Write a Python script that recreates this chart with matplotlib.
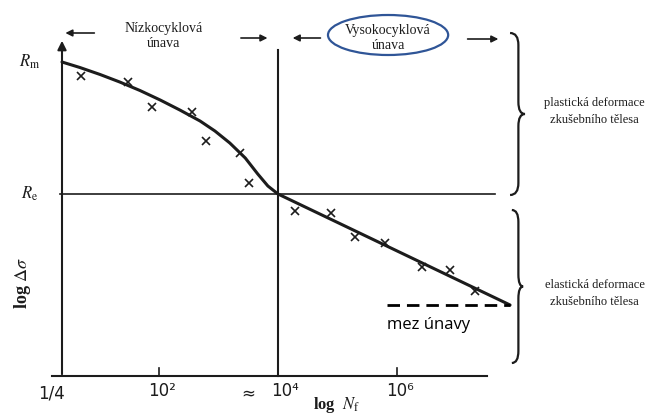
import matplotlib
matplotlib.use("Agg")
import matplotlib.pyplot as plt
from matplotlib.path import Path
from matplotlib.patches import PathPatch, Ellipse

plt.rcParams['mathtext.fontset'] = 'stix'

# x = log10 N (schematic), y = log stress (relative units)
curve_x = [0.37, 0.67, 1.01, 1.34, 1.68, 2.02, 2.35, 2.69, 2.94, 3.19, 3.45, 3.66, 3.83, 4.00, 7.90]
curve_y = [3.14, 3.085, 3.015, 2.94, 2.855, 2.76, 2.66, 2.55, 2.45, 2.33, 2.18, 2.02, 1.90, 1.82, 0.71]

meas_x = [0.69, 1.48, 1.88, 2.55, 2.79, 3.36, 3.51, 4.29, 4.89, 5.29, 5.80, 6.42, 6.89, 7.31]
meas_y = [3.00, 2.94, 2.69, 2.64, 2.35, 2.23, 1.93, 1.65, 1.63, 1.39, 1.33, 1.09, 1.06, 0.85]

R_m = 3.14
R_e = 1.82
mez = 0.71            # mez unavy
x_knee = 4.0          # ~10^4 cyklu
x_start = 0.37        # 1/4 cyklu
x_end = 7.90

tick_pos = [2.0, 6.0]
tick_labels = ['10²', '10⁶']

col = '#1c1c1c'
serif = 'Liberation Serif'

fig = plt.figure(figsize=(6.49, 4.16), dpi=100)
ax = fig.add_axes([0, 0, 1, 1])
ax.set_xlim(-0.672, 10.235)
ax.set_ylim(-0.40, 3.76)
ax.axis('off')

# osy
ax.annotate('', xy=(x_start, 3.38), xytext=(x_start, -0.01),
            arrowprops=dict(arrowstyle='-|>', lw=1.5, color=col, mutation_scale=13))
ax.plot([0.20, 7.51], [0, 0], color=col, lw=1.5)
for t in tick_pos:
    ax.plot([t, t], [0, 0.08], color=col, lw=1.2)

# Re a hranice 10^4
ax.plot([0.34, 7.65], [R_e, R_e], color=col, lw=1.2)
ax.plot([x_knee, x_knee], [3.26, 0], color=col, lw=1.5)

# krivka a body
ax.plot(curve_x, curve_y, color=col, lw=2.2, solid_capstyle='round', solid_joinstyle='round')
ax.plot(meas_x, meas_y, ls='none', marker='x', ms=5.5, mew=1.2, color=col)

# mez unavy
ax.plot([5.83, x_end], [mez, mez], color='black', lw=2.0, dashes=(4.5, 2.5))
ax.text(5.83, mez - 0.20, 'mez únavy', fontsize=12, family='Open Sans', va='center', ha='left')

# popisky os
ax.text(0.20, -0.17, '1/4', fontsize=12, ha='center', va='center', color=col, family='DejaVu Sans')
for t, lab in zip(tick_pos, tick_labels):
    ax.text(t + 0.05, -0.15, lab, fontsize=12, ha='center', va='center', color=col,
            family='DejaVu Sans')
ax.text(3.50, -0.17, '≈', fontsize=12, ha='center', va='center', color=col, family='DejaVu Sans')
ax.text(x_knee + 0.12, -0.15, '10⁴', fontsize=12, ha='center', va='center', color=col,
        family='DejaVu Sans')
ax.text(4.99, -0.39, r'log  $N_\mathrm{f}$', fontsize=12, ha='center', va='bottom',
        family=serif, weight='bold', color=col)
ax.text(-0.30, 0.93, r'log $\Delta\sigma$', fontsize=13, rotation=90, ha='center', va='center',
        family=serif, weight='bold', color=col)
ax.text(-0.17, R_m, r'$R_\mathrm{m}$', fontsize=12, ha='center', va='center', color=col)
ax.text(-0.17, R_e, r'$R_\mathrm{e}$', fontsize=12, ha='center', va='center', color=col)

# horni popisky s sipkami
arr = dict(arrowstyle='-|>', lw=1.2, color=col, mutation_scale=10)
ax.text(2.07, 3.48, 'Nízkocyklová', fontsize=10, family=serif, ha='center', va='center', color=col)
ax.text(2.07, 3.33, 'únava', fontsize=10, family=serif, ha='center', va='center', color=col)
ax.annotate('', xy=(0.38, 3.43), xytext=(0.96, 3.43), arrowprops=arr)
ax.annotate('', xy=(3.87, 3.38), xytext=(3.33, 3.38), arrowprops=arr)
ax.annotate('', xy=(4.20, 3.38), xytext=(4.76, 3.38), arrowprops=arr)
ax.add_patch(Ellipse((5.85, 3.41), 2.02, 0.40, fill=False, ec='#2F5597', lw=1.6))
ax.text(5.85, 3.46, 'Vysokocyklová', fontsize=10, family=serif, ha='center', va='center', color=col)
ax.text(5.85, 3.31, 'únava', fontsize=10, family=serif, ha='center', va='center', color=col)
ax.annotate('', xy=(7.75, 3.37), xytext=(7.14, 3.37), arrowprops=arr)


def brace(x0, xm, xt, top, bot, r=0.12):
    mid = (top + bot) / 2
    verts = [(x0, top), (xm, top), (xm, top - r),
             (xm, mid + r), (xm, mid), (xt, mid),
             (xm, mid), (xm, mid - r),
             (xm, bot + r), (xm, bot), (x0, bot)]
    codes = [Path.MOVETO, Path.CURVE3, Path.CURVE3,
             Path.LINETO, Path.CURVE3, Path.CURVE3,
             Path.CURVE3, Path.CURVE3,
             Path.LINETO, Path.CURVE3, Path.CURVE3]
    ax.add_patch(PathPatch(Path(verts, codes), fill=False, lw=1.6, ec=col))


brace(7.90, 8.04, 8.15, 3.43, 1.81)
brace(7.93, 8.04, 8.12, 1.66, 0.13)

ax.text(9.32, 2.73, 'plastická deformace', fontsize=9, family=serif, ha='center', va='center', color=col)
ax.text(9.32, 2.56, 'zkušebního tělesa', fontsize=9, family=serif, ha='center', va='center', color=col)
ax.text(9.32, 0.91, 'elastická deformace', fontsize=9, family=serif, ha='center', va='center', color=col)
ax.text(9.32, 0.74, 'zkušebního tělesa', fontsize=9, family=serif, ha='center', va='center', color=col)

fig.savefig('out.png', dpi=100)
